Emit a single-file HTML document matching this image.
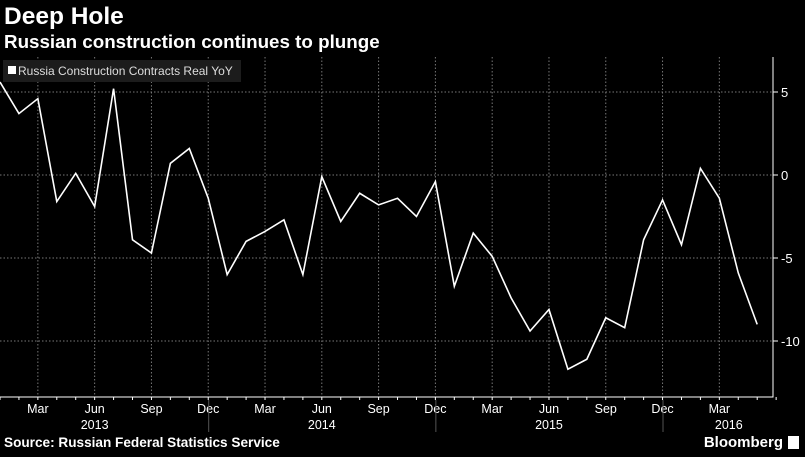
<!DOCTYPE html>
<html><head><meta charset="utf-8"><style>
body{margin:0;background:#000;width:805px;height:452px;overflow:hidden;font-family:"Liberation Sans",sans-serif;color:#fff}
</style></head><body>
<svg id="c" width="805" height="452" xmlns="http://www.w3.org/2000/svg">
<text x="4" y="24" font-size="24.5" font-weight="bold" fill="#fff">Deep Hole</text>
<text x="4" y="48" font-size="18.8" font-weight="bold" fill="#fff">Russian construction continues to plunge</text>
<g id="grid"></g>
<g id="axes"></g>
<polyline id="line" fill="none" stroke="#fff" stroke-width="1.6"/>
<g>
<rect x="3" y="60" width="238" height="22" fill="#1c1c1c"/>
<rect x="8" y="66" width="8" height="8" fill="#fff"/>
<text x="18" y="75" font-size="12" fill="#ddd">Russia Construction Contracts Real YoY</text>
</g>
<text x="4" y="447" font-size="13.6" font-weight="bold" fill="#fff">Source: Russian Federal Statistics Service</text>
<text x="783" y="447" font-size="15" font-weight="bold" fill="#fff" text-anchor="end">Bloomberg</text>
<rect x="788" y="436" width="11" height="13" fill="#fff"/>
</svg>
<script>
const values=[5.6,3.7,4.6,-1.6,0.1,-1.9,5.2,-3.9,-4.7,0.7,1.6,-1.4,-6.0,-4.0,-3.4,-2.7,-6.0,-0.1,-2.8,-1.1,-1.8,-1.4,-2.5,-0.4,-6.7,-3.5,-4.9,-7.4,-9.4,-8.1,-11.7,-11.1,-8.6,-9.2,-3.9,-1.5,-4.2,0.4,-1.4,-5.9,-9.0];
const yTicks=[5,0,-5,-10];
const monthLabels=["Mar","Jun","Sep","Dec","Mar","Jun","Sep","Dec","Mar","Jun","Sep","Dec","Mar"];
const monthIdx=[2,5,8,11,14,17,20,23,26,29,32,35,38];
const years=["2013","2014","2015","2016"];
const yearIdx=[5,17,29,38.5];
const x=i=>i*18.93;
const y=v=>175-v*16.6;
const ns="http://www.w3.org/2000/svg";
const grid=document.getElementById('grid'),axes=document.getElementById('axes');
function mk(tag,attrs,parent){const e=document.createElementNS(ns,tag);for(const k in attrs)e.setAttribute(k,attrs[k]);parent.appendChild(e);return e;}
yTicks.forEach(t=>{
 const g=mk('line',{x1:0,x2:773,y1:y(t),y2:y(t),stroke:'#777','stroke-width':1,'stroke-dasharray':'1.5,2'},grid);
 
 
 const tk=mk('line',{x1:773,x2:778,y1:y(t),y2:y(t),stroke:'#fff'},axes);
 
 
 const tx=mk('text',{x:781,y:y(t)+5,'font-size':13,fill:'#fff'},axes);
 tx.textContent=String(t);
 
 
});
monthIdx.forEach((m,i)=>{
 const g=mk('line',{x1:x(m),x2:x(m),y1:57,y2:397,stroke:'#777','stroke-width':1,'stroke-dasharray':'1.5,2'},grid);
 
 
 const tx=mk('text',{x:x(m),y:413,'font-size':12.5,fill:'#fff','text-anchor':'middle'},axes);
 tx.textContent=monthLabels[i];
 
 
});
for(let i=0;i<values.length+1;i++){
 const tk=mk('line',{x1:x(i),x2:x(i),y1:397,y2:400,stroke:'#fff'},axes);
 
 
}
[11.5,23.5,35.5].forEach(b=>{
 const s=mk('line',{x1:x(b)-9,x2:x(b)-9,y1:400,y2:432,stroke:'#555'},axes);
 
 
});
years.forEach((yr,i)=>{
 const tx=mk('text',{x:x(yearIdx[i]),y:429,'font-size':12.5,fill:'#fff','text-anchor':'middle'},axes);
 tx.textContent=yr;
 
 
});
const ax=mk('path',{d:'M0 397H773V57',fill:'none',stroke:'#fff','stroke-width':1},axes);


document.getElementById('line').setAttribute('points',values.map((v,i)=>x(i)+','+y(v)).join(' '));
</script>
</body></html>
